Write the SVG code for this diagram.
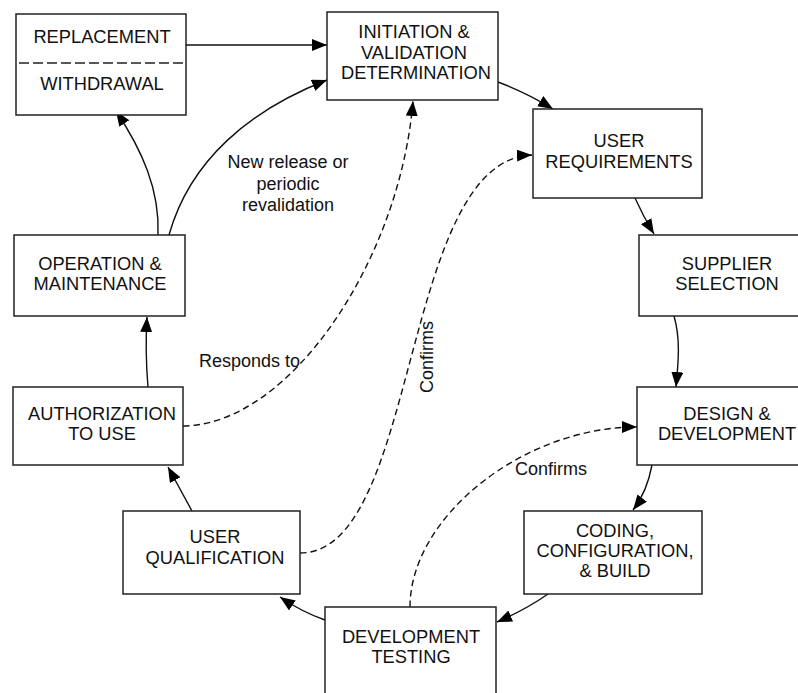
<svg xmlns="http://www.w3.org/2000/svg" width="798" height="693" viewBox="0 0 798 693">
  <defs>
    <marker id="arrow" markerUnits="userSpaceOnUse" markerWidth="16" markerHeight="14" refX="15" refY="6" orient="auto">
      <path d="M0,0 L15,6 L0,12 z" fill="#000"/>
    </marker>
    <style>
      .box { fill: #fff; stroke: #222; stroke-width: 1.5; }
      .lbl { font-family: "Liberation Sans", Arial, sans-serif; font-size: 18.3px; fill: #111; text-anchor: middle; }
      .note { font-family: "Liberation Sans", Arial, sans-serif; font-size: 18px; fill: #111; }
      .flow { fill: none; stroke: #111; stroke-width: 1.4; marker-end: url(#arrow); }
      .link { fill: none; stroke: #111; stroke-width: 1.4; stroke-dasharray: 6.5 4; marker-end: url(#arrow); }
      .split { stroke: #222; stroke-width: 1.3; stroke-dasharray: 10 4; }
    </style>
  </defs>

  <rect width="798" height="693" fill="#fff"/>

  <!-- connectors -->
  <g id="connectors">
    <path class="flow" d="M186,45 L327,45"/>
    <path class="flow" d="M498,82 Q527,93 553,109"/>
    <path class="flow" d="M635,198 Q643,216 654,234"/>
    <path class="flow" d="M674,316 C681,340 678,365 676,387"/>
    <path class="flow" d="M652,465 Q647,492 633,510"/>
    <path class="flow" d="M548,594 Q525,610 497,622"/>
    <path class="flow" d="M325,620 Q302,612 280,597"/>
    <path class="flow" d="M192,511 L168,467"/>
    <path class="flow" d="M148,387 Q145,352 147,317"/>
    <path class="flow" d="M158,235 C160,190 142,150 116,111"/>
    <path class="flow" d="M169,235 C190,160 250,110 327,80"/>

    <path class="link" d="M183,426 C290,425 400,260 413,101"/>
    <path class="link" d="M300,553 C420,553 400,160 532,155"/>
    <path class="link" d="M410,607 C410,517 523,427 637,427"/>

    <text class="note" x="288" y="168" text-anchor="middle">New release or</text>
    <text class="note" x="288" y="190" text-anchor="middle">periodic</text>
    <text class="note" x="288" y="211" text-anchor="middle">revalidation</text>
    <text class="note" x="199" y="367">Responds to</text>
    <text class="note" x="0" y="0" text-anchor="middle" transform="translate(433,357) rotate(-90)">Confirms</text>
    <text class="note" x="515" y="475">Confirms</text>
  </g>

  <g id="replacement">
    <rect class="box" x="16" y="14" width="170" height="101"/>
    <line class="split" x1="19" y1="63" x2="183" y2="63"/>
    <text class="lbl" x="102" y="43">REPLACEMENT</text>
    <text class="lbl" x="102" y="90">WITHDRAWAL</text>
  </g>

  <g id="initiation">
    <rect class="box" x="327" y="12" width="171" height="88"/>
    <text class="lbl" x="414" y="38">INITIATION &amp;</text>
    <text class="lbl" x="414" y="59">VALIDATION</text>
    <text class="lbl" x="416" y="79">DETERMINATION</text>
  </g>

  <g id="user-requirements">
    <rect class="box" x="533" y="109" width="169" height="89"/>
    <text class="lbl" x="619" y="147">USER</text>
    <text class="lbl" x="619" y="168">REQUIREMENTS</text>
  </g>

  <g id="supplier-selection">
    <rect class="box" x="639" y="235" width="170" height="81"/>
    <text class="lbl" x="727" y="270">SUPPLIER</text>
    <text class="lbl" x="727" y="290">SELECTION</text>
  </g>

  <g id="design-development">
    <rect class="box" x="637" y="387" width="172" height="78"/>
    <text class="lbl" x="727" y="420">DESIGN &amp;</text>
    <text class="lbl" x="727" y="440">DEVELOPMENT</text>
  </g>

  <g id="coding-build">
    <rect class="box" x="524" y="511" width="178" height="83"/>
    <text class="lbl" x="615" y="537">CODING,</text>
    <text class="lbl" x="615" y="557">CONFIGURATION,</text>
    <text class="lbl" x="615" y="577">&amp; BUILD</text>
  </g>

  <g id="development-testing">
    <rect class="box" x="325" y="607" width="171" height="95"/>
    <text class="lbl" x="411" y="643">DEVELOPMENT</text>
    <text class="lbl" x="411" y="663">TESTING</text>
  </g>

  <g id="user-qualification">
    <rect class="box" x="123" y="511" width="177" height="83"/>
    <text class="lbl" x="215" y="543">USER</text>
    <text class="lbl" x="215" y="564">QUALIFICATION</text>
  </g>

  <g id="authorization">
    <rect class="box" x="13" y="387" width="170" height="78"/>
    <text class="lbl" x="102" y="420">AUTHORIZATION</text>
    <text class="lbl" x="102" y="440">TO USE</text>
  </g>

  <g id="operation-maintenance">
    <rect class="box" x="14" y="235" width="171" height="81"/>
    <text class="lbl" x="100" y="270">OPERATION &amp;</text>
    <text class="lbl" x="100" y="290">MAINTENANCE</text>
  </g>
</svg>
